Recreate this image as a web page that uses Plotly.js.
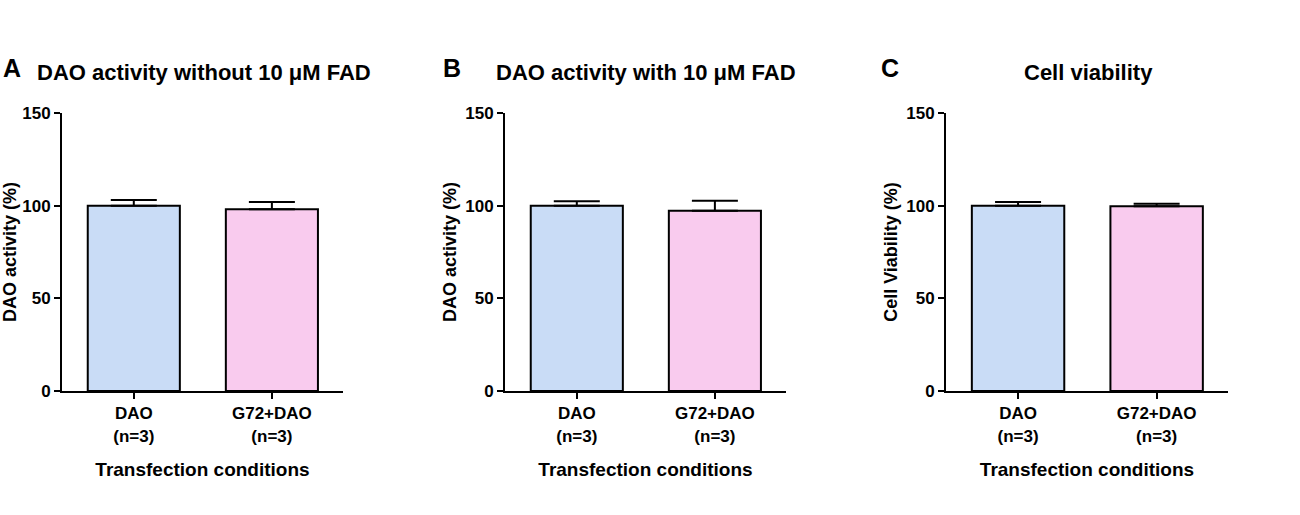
<!DOCTYPE html>
<html>
<head>
<meta charset="utf-8">
<script src="https://cdn.plot.ly/plotly-3.0.1.min.js"></script>
<style>html,body{margin:0;padding:0;background:#fff}#plot{width:1300px;height:515px}</style>
</head>
<body>
<div id="plot"></div>
<script>
const categories = [0, 1];
const tickLabels = ["DAO<br>(n=3)", "G72+DAO<br>(n=3)"];
const panelTitles = ["DAO activity without 10 \u03bcM FAD", "DAO activity with 10 \u03bcM FAD", "Cell viability"];
const panelLetters = ["A", "B", "C"];
const yTitles = ["DAO activity (%)", "DAO activity (%)", "Cell Viability (%)"];
const xTitle = "Transfection conditions";
const valuesA = [100, 98];
const errorsA = [3, 4];
const valuesB = [100, 97.3];
const errorsB = [2.4, 5.4];
const valuesC = [100, 99.7];
const errorsC = [2, 1.4];
const barColors = ["#c9dcf6", "#f9cbee"];

const allValues = [valuesA, valuesB, valuesC];
const allErrors = [errorsA, errorsB, errorsC];
const xDomains = [[62/1300, 343/1300], [505/1300, 786/1300], [946/1300, 1228/1300]];
const yDomain = [(515-391)/515, (515-113)/515];
const titleX = [204/1300, 646/1300, 1088/1300];
const letterX = [12/1300, 452/1300, 890/1300];

const font = {family: "Liberation Sans, Arial, sans-serif", color: "#000", weight: "bold"};
const traces = [];
const layout = {
  width: 1300, height: 515,
  margin: {l: 0, r: 0, t: 0, b: 0},
  paper_bgcolor: "#fff", plot_bgcolor: "#fff",
  showlegend: false,
  font: font,
  annotations: []
};
for (let i = 0; i < 3; i++) {
  const s = i === 0 ? "" : String(i + 1);
  traces.push({
    type: "bar",
    x: categories,
    y: allValues[i],
    width: 0.667,
    xaxis: "x" + s, yaxis: "y" + s,
    marker: {color: barColors, line: {color: "#000", width: 2}},
    error_y: {type: "data", symmetric: false, array: allErrors[i], arrayminus: [0, 0],
              color: "#000", thickness: 2, width: 23},
    hoverinfo: "none"
  });
  layout["xaxis" + s] = {
    domain: xDomains[i], anchor: "y" + s,
    range: [-0.52, 1.515],
    tickvals: categories, ticktext: tickLabels,
    ticks: "outside", ticklen: 6, tickwidth: 2, tickcolor: "#000",
    showline: true, linecolor: "#000", linewidth: 2,
    showgrid: false, zeroline: false, fixedrange: true,
    tickfont: Object.assign({}, font, {size: 17}),
    title: {text: xTitle, font: Object.assign({}, font, {size: 19}), standoff: 18}
  };
  layout["yaxis" + s] = {
    domain: yDomain, anchor: "x" + s,
    range: [0, 150],
    tickvals: [0, 50, 100, 150],
    ticks: "outside", ticklen: 6, tickwidth: 2, tickcolor: "#000",
    showline: true, linecolor: "#000", linewidth: 2,
    showgrid: false, zeroline: false, fixedrange: true,
    tickfont: Object.assign({}, font, {size: 17}),
    title: {text: yTitles[i], font: Object.assign({}, font, {size: 18}), standoff: 4}
  };
  layout.annotations.push({
    text: panelTitles[i], xref: "paper", yref: "paper",
    x: titleX[i], y: 1 - 73/515, xanchor: "center", yanchor: "middle",
    showarrow: false, font: Object.assign({}, font, {size: 22})
  });
  layout.annotations.push({
    text: panelLetters[i], xref: "paper", yref: "paper",
    x: letterX[i], y: 1 - 68/515, xanchor: "center", yanchor: "middle",
    showarrow: false, font: Object.assign({}, font, {size: 25})
  });
}
Plotly.newPlot("plot", traces, layout, {displayModeBar: false, staticPlot: true});
</script>
</body>
</html>
